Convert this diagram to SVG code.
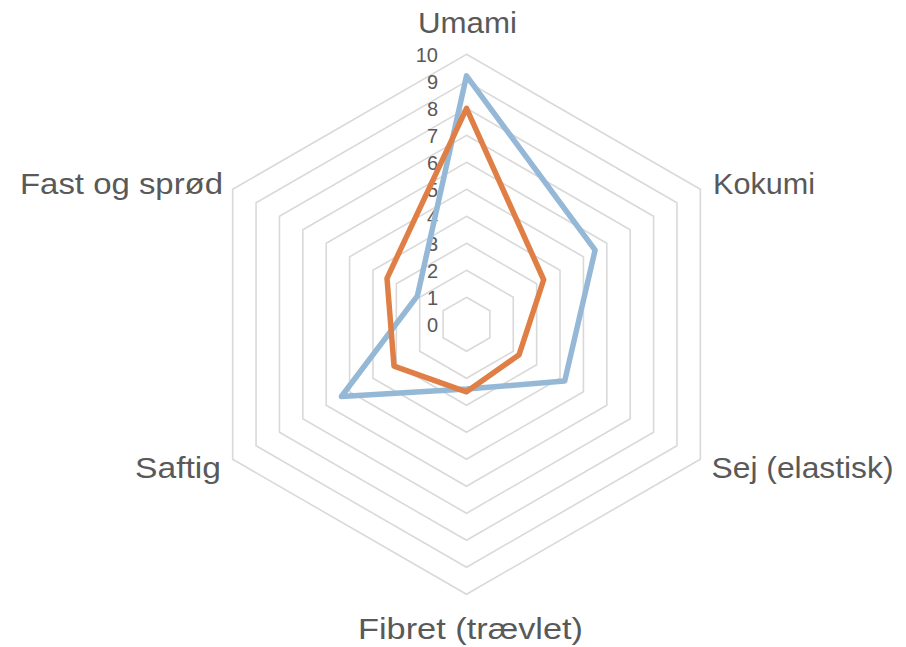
<svg xmlns="http://www.w3.org/2000/svg" width="906" height="647" viewBox="0 0 906 647">
<style>
.grid{fill:none;stroke:#d9d9d9;stroke-width:1.6}
.ser{fill:none;stroke-width:5.5;stroke-linejoin:round;stroke-linecap:round}
.cat{font-family:"Liberation Sans",Arial,sans-serif;font-size:30px;fill:#595959}
.tick{font-family:"Liberation Sans",Arial,sans-serif;font-size:20px;fill:#595959;text-anchor:end}
</style>
<rect width="906" height="647" fill="#ffffff"/>
<g id="grid" transform="translate(466.5,324.3)">
<polygon class="grid" points="0,-27 23.383,-13.5 23.383,13.5 0,27 -23.383,13.5 -23.383,-13.5"/>
<polygon class="grid" points="0,-54 46.765,-27 46.765,27 0,54 -46.765,27 -46.765,-27"/>
<polygon class="grid" points="0,-81 70.148,-40.5 70.148,40.5 0,81 -70.148,40.5 -70.148,-40.5"/>
<polygon class="grid" points="0,-108 93.531,-54 93.531,54 0,108 -93.531,54 -93.531,-54"/>
<polygon class="grid" points="0,-135 116.913,-67.5 116.913,67.5 0,135 -116.913,67.5 -116.913,-67.5"/>
<polygon class="grid" points="0,-162 140.296,-81 140.296,81 0,162 -140.296,81 -140.296,-81"/>
<polygon class="grid" points="0,-189 163.679,-94.5 163.679,94.5 0,189 -163.679,94.5 -163.679,-94.5"/>
<polygon class="grid" points="0,-216 187.061,-108 187.061,108 0,216 -187.061,108 -187.061,-108"/>
<polygon class="grid" points="0,-243 210.444,-121.5 210.444,121.5 0,243 -210.444,121.5 -210.444,-121.5"/>
<polygon class="grid" points="0,-270 233.827,-135 233.827,135 0,270 -233.827,135 -233.827,-135"/>
</g>
<g id="ticks">
<text class="tick" x="438" y="331.6">0</text>
<text class="tick" x="438" y="304.6">1</text>
<text class="tick" x="438" y="277.6">2</text>
<text class="tick" x="438" y="250.6">3</text>
<text class="tick" x="438" y="223.6">4</text>
<text class="tick" x="438" y="196.6">5</text>
<text class="tick" x="438" y="169.6">6</text>
<text class="tick" x="438" y="142.6">7</text>
<text class="tick" x="438" y="115.6">8</text>
<text class="tick" x="438" y="88.6">9</text>
<text class="tick" x="438" y="61.6">10</text>
</g>
<g id="connectors" transform="translate(466.5,324.3)">
<polygon id="series-blue" class="ser" stroke="#95b8d7" points="0,-248.4 128.605,-74.25 98.207,56.7 0,64.8 -125.097,72.225 -49.104,-28.35"/>
<polygon id="series-orange" class="ser" stroke="#e07f45" points="0,-216 77.163,-44.55 52.611,30.375 0,67.5 -72.486,41.85 -79.501,-45.9"/>
</g>
<g id="label-umami"><text class="cat" x="418" y="32.5" textLength="99" lengthAdjust="spacingAndGlyphs">Umami</text></g>
<g id="label-kokumi"><text class="cat" x="713" y="194" textLength="102" lengthAdjust="spacingAndGlyphs">Kokumi</text></g>
<g id="label-sej"><text class="cat" x="711.5" y="477.5" textLength="182" lengthAdjust="spacingAndGlyphs">Sej (elastisk)</text></g>
<g id="label-fibret"><text class="cat" x="358" y="639" textLength="225" lengthAdjust="spacingAndGlyphs">Fibret (trævlet)</text></g>
<g id="label-saftig"><text class="cat" x="135" y="477.5" textLength="86" lengthAdjust="spacingAndGlyphs">Saftig</text></g>
<g id="label-fast"><text class="cat" x="20" y="194" textLength="203" lengthAdjust="spacingAndGlyphs">Fast og sprød</text></g>
</svg>
